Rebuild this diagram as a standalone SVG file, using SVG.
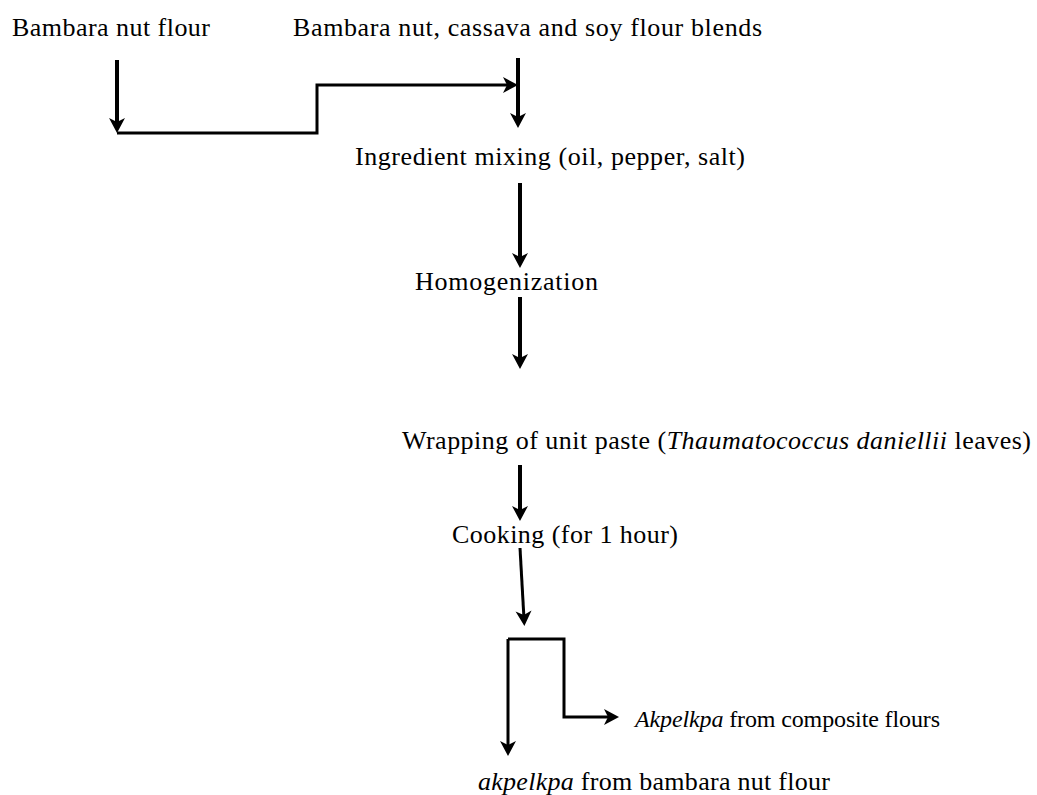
<svg xmlns="http://www.w3.org/2000/svg" width="1037" height="795" viewBox="0 0 1037 795">
<style>
  text { font-family: "Liberation Serif", "Times New Roman", serif; font-size: 26px; fill: #000; }
  .it { font-style: italic; }
  .sm { font-size: 24px; }
  .shaft { stroke: #000; stroke-width: 4; fill: none; }
  .conn { stroke: #000; stroke-width: 3; fill: none; }
</style>
<defs>
  <marker id="ah" markerUnits="userSpaceOnUse" viewBox="-10 -10 18 20" refX="0" refY="0" markerWidth="18" markerHeight="20" orient="auto">
    <path d="M7,0 L-8,-8 L-4,0 L-8,8 Z" fill="#000"/>
  </marker>
</defs>
<rect width="1037" height="795" fill="#fff"/>

<g id="n-bambara"><text x="12" y="36" textLength="198" lengthAdjust="spacing">Bambara nut flour</text></g>
<g id="n-blends"><text x="293" y="36" textLength="469" lengthAdjust="spacing">Bambara nut, cassava and soy flour blends</text></g>
<g id="n-mixing"><text x="355" y="165" textLength="390" lengthAdjust="spacing">Ingredient mixing (oil, pepper, salt)</text></g>
<g id="n-homog"><text x="415" y="290" textLength="183" lengthAdjust="spacing">Homogenization</text></g>
<g id="n-wrap"><text x="402" y="449" textLength="629" lengthAdjust="spacing">Wrapping of unit paste (<tspan class="it">Thaumatococcus daniellii</tspan> leaves)</text></g>
<g id="n-cook"><text x="452" y="543" textLength="226" lengthAdjust="spacing">Cooking (for 1 hour)</text></g>
<g id="n-composite"><text class="sm" x="635" y="727" textLength="305" lengthAdjust="spacing"><tspan class="it">Akpelkpa</tspan> from composite flours</text></g>
<g id="n-bambara-out"><text x="478" y="790" textLength="352" lengthAdjust="spacing"><tspan class="it">akpelkpa</tspan> from bambara nut flour</text></g>

<g id="connectors">
  <path class="shaft" d="M117,60 V126" marker-end="url(#ah)"/>
  <path class="conn" d="M117,133 H317 V85 H511" marker-end="url(#ah)"/>
  <path class="shaft" d="M518,58 V121" marker-end="url(#ah)"/>
  <path class="shaft" d="M520,183 V261" marker-end="url(#ah)"/>
  <path class="shaft" d="M520,297 V362" marker-end="url(#ah)"/>
  <path class="shaft" d="M520,465 V514" marker-end="url(#ah)"/>
  <path class="conn" d="M520,548 L524,619" marker-end="url(#ah)"/>
  <path class="conn" d="M508,639 H564 V717 H612" marker-end="url(#ah)"/>
  <path class="conn" d="M508,639 V749" marker-end="url(#ah)"/>
</g>
</svg>
